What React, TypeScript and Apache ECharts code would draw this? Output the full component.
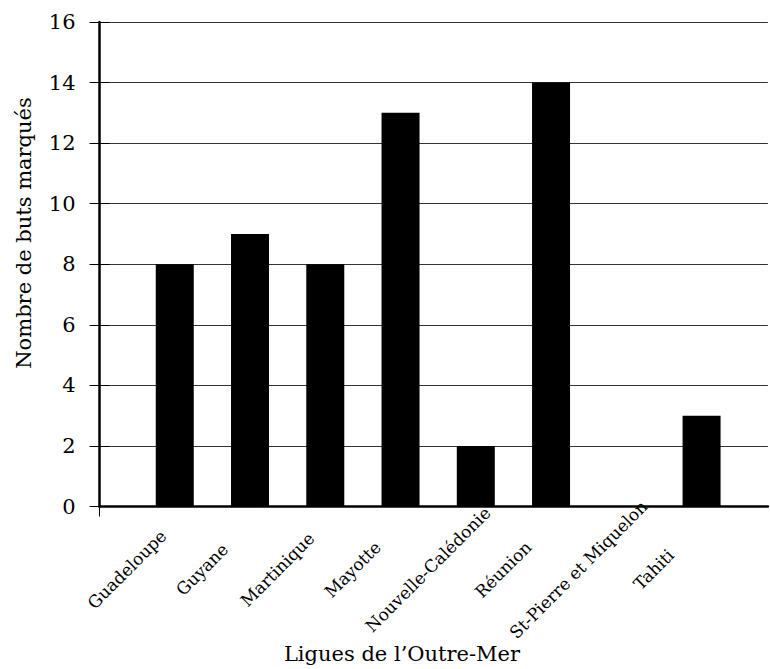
import React, { useEffect, useRef } from "react";
import * as echarts from "echarts";

const categories = [
  "Guadeloupe",
  "Guyane",
  "Martinique",
  "Mayotte",
  "Nouvelle-Calédonie",
  "Réunion",
  "St-Pierre et Miquelon",
  "Tahiti",
];
const goals = [8, 9, 8, 13, 2, 14, 0, 3];
const yTicks = [0, 2, 4, 6, 8, 10, 12, 14, 16];
const yTitle = "Nombre de buts marqués";
const xTitle = "Ligues de l’Outre-Mer";

const FONT = "DejaVu Serif";

export default function App() {
  const ref = useRef<HTMLDivElement>(null);
  useEffect(() => {
    if (!ref.current) return;
    const chart = echarts.init(ref.current, undefined, { renderer: "svg" });
    const xMax = 8.881;
    const labelShift = 0.636;
    const barData = goals.map((v, i) => [i + 1, v]);
    chart.setOption({
      animation: false,
      backgroundColor: "#fff",
      grid: { left: 99.5, right: 0, top: 22, bottom: 162.5, containLabel: false },
      xAxis: [
        {
          type: "value",
          min: 0,
          max: xMax,
          interval: 1,
          axisLine: { show: true, lineStyle: { color: "#000", width: 2.5 } },
          axisTick: { show: false },
          axisLabel: { show: false },
          splitLine: { show: false },
        },
        {
          type: "value",
          min: labelShift,
          max: xMax + labelShift,
          minInterval: 1,
          maxInterval: 1,
          position: "bottom",
          axisLine: { show: false },
          axisTick: { show: false },
          splitLine: { show: false },
          axisLabel: {
            show: true,
            rotate: 45,
            align: "center",
            verticalAlign: "middle",
            margin: 63,
            fontFamily: FONT,
            fontSize: 17,
            color: "#000",
            showMinLabel: true,
            showMaxLabel: true,
            formatter: (v: number) => {
              const k = Math.round(v);
              if (Math.abs(v - k) > 1e-6) return "";
              return categories[k - 1] ?? "";
            },
          },
        },
      ],
      yAxis: [
        {
          type: "value",
          min: yTicks[0],
          max: yTicks[yTicks.length - 1],
          interval: 2,
          axisLine: { show: true, lineStyle: { color: "#000", width: 2.5 } },
          axisTick: { show: true, length: 10, lineStyle: { color: "#000", width: 1 } },
          axisLabel: {
            margin: 24,
            fontFamily: FONT,
            fontSize: 21,
            color: "#000",
          },
          splitLine: { show: true, lineStyle: { color: "#333", width: 1 } },
        },
        {
          type: "value",
          min: yTicks[0],
          max: yTicks[yTicks.length - 1],
          interval: 2,
          position: "left",
          axisLine: { show: false },
          axisTick: { show: true, inside: true, length: 10, lineStyle: { color: "#000", width: 1 } },
          axisLabel: { show: false },
          splitLine: { show: false },
        },
      ],
      series: [
        {
          type: "bar",
          xAxisIndex: 0,
          yAxisIndex: 0,
          data: barData,
          barWidth: 38,
          itemStyle: { color: "#000" },
        },
      ],
      graphic: [
        {
          id: "ytitle",
          type: "text",
          x: 24,
          y: 233,
          rotation: Math.PI / 2,
          style: {
            text: yTitle,
            fontFamily: FONT,
            fontSize: 21,
            fill: "#000",
            align: "center",
            verticalAlign: "middle",
          },
        },
        {
          id: "xtitle",
          type: "text",
          x: 402,
          y: 654,
          style: {
            text: xTitle,
            fontFamily: FONT,
            fontSize: 21,
            fill: "#000",
            align: "center",
            verticalAlign: "middle",
          },
        },
      ],
    });
    const origin = chart.convertToPixel({ xAxisIndex: 0, yAxisIndex: 0 }, [0, 0]) as number[];
    if (origin) {
      chart.setOption({
        graphic: [
          {
            id: "xtick0",
            type: "line",
            shape: { x1: origin[0], y1: origin[1], x2: origin[0], y2: origin[1] + 10 },
            style: { stroke: "#000", lineWidth: 1 },
          },
        ],
      });
    }
    return () => chart.dispose();
  }, []);
  return (
    <div
      ref={ref}
      style={{ position: "absolute", left: 0, top: 0, width: 770, height: 669 }}
    />
  );
}
